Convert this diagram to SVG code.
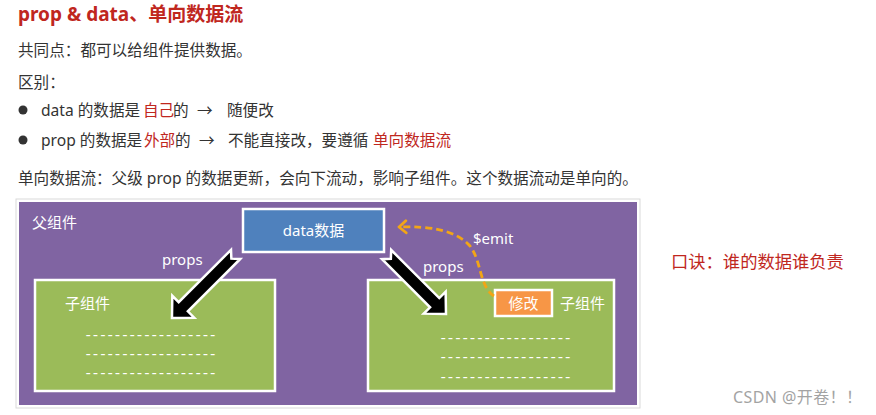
<svg xmlns="http://www.w3.org/2000/svg" width="876" height="415" viewBox="0 0 876 415">
<defs>
<style>
.t{font-family:"Noto Sans","Noto Sans CJK SC",sans-serif;}
.body{font-size:15.6px;fill:#333;}
.red{fill:#c0271e;}
.w{fill:#fff;font-size:15px;}
.dash{fill:#fff;font-size:14px;font-family:"Liberation Mono",monospace;}
.box{stroke:#fff;stroke-width:2.5;}
.arrow{fill:#000;stroke:#fff;stroke-width:2.5;stroke-linejoin:miter;}
</style>
<marker id="chev" markerUnits="userSpaceOnUse" markerWidth="12" markerHeight="16" viewBox="0 0 12 16" refX="10" refY="8" orient="auto">
<path d="M3,2 L10,8 L3,14" fill="none" stroke="#f2a516" stroke-width="2.8" stroke-linecap="round" stroke-linejoin="round"/>
</marker>
</defs>
<rect width="876" height="415" fill="#fff"/>

<g id="text" class="t">
<text x="18" y="21" font-size="19" font-weight="bold" class="red">prop &amp; data、单向数据流</text>
<text x="18" y="56" class="body">共同点：都可以给组件提供数据。</text>
<text x="18" y="88" class="body">区别：</text>
<circle cx="23" cy="110" r="4.5" fill="#333"/>
<circle cx="23" cy="140" r="4.5" fill="#333"/>
<text y="116" class="body"><tspan x="41">data 的数据是</tspan><tspan x="143" class="red">自己</tspan><tspan x="173">的</tspan><tspan x="197">→</tspan><tspan x="227">随便改</tspan></text>
<text y="146" class="body"><tspan x="41">prop 的数据是</tspan><tspan x="144" class="red">外部</tspan><tspan x="175">的</tspan><tspan x="199">→</tspan><tspan x="228">不能直接改，要遵循</tspan><tspan x="373" class="red">单向数据流</tspan></text>
<text x="18" y="184" class="body">单向数据流：父级 prop 的数据更新，会向下流动，影响子组件。这个数据流动是单向的。</text>
<text x="671" y="268" font-size="17.3" class="red">口诀：谁的数据谁负责</text>
<text x="733" y="403" font-size="16" fill="#a3a3a3" textLength="129" lengthAdjust="spacing">CSDN @开卷！！</text>
</g>

<g id="parent">
<rect x="16" y="199" width="624" height="209" fill="#fff" stroke="#d9d9d9" stroke-width="1"/>
<rect x="19" y="202" width="618" height="203" fill="#8064a2"/>
<text x="32" y="228" class="t w">父组件</text>
</g>

<g id="child-left">
<rect x="35" y="280" width="240" height="111" fill="#9bbb59" class="box"/>
<text x="65" y="309" class="t w">子组件</text>
<text x="84" y="340" class="dash" textLength="133" lengthAdjust="spacing">------------------</text>
<text x="84" y="359" class="dash" textLength="133" lengthAdjust="spacing">------------------</text>
<text x="84" y="378" class="dash" textLength="133" lengthAdjust="spacing">------------------</text>
</g>

<g id="child-right">
<rect x="368" y="280" width="246" height="111" fill="#9bbb59" class="box"/>
<text x="560" y="309" class="t w">子组件</text>
<text x="439" y="343" class="dash" textLength="133" lengthAdjust="spacing">------------------</text>
<text x="439" y="362" class="dash" textLength="133" lengthAdjust="spacing">------------------</text>
<text x="439" y="382" class="dash" textLength="133" lengthAdjust="spacing">------------------</text>
</g>

<g id="data">
<rect x="243" y="209" width="141" height="43" fill="#4f81bd" class="box"/>
<text x="313.5" y="236" text-anchor="middle" class="t w" font-size="15.5">data数据</text>
</g>

<g id="modify">
<rect x="495" y="290" width="57" height="26" fill="#f79646" class="box"/>
<text x="523.5" y="309" text-anchor="middle" class="t w">修改</text>
</g>

<g id="connectors">
<path class="arrow" transform="translate(235.6,254.4) rotate(135)" d="M0,-6.5 L74,-6.5 L74,-15.5 L90,0 L74,15.5 L74,6.5 L0,6.5 L6,0 Z"/>
<path class="arrow" transform="translate(386.6,254.6) rotate(45)" d="M0,-6.5 L68,-6.5 L68,-15.5 L84,0 L68,15.5 L68,6.5 L0,6.5 L6,0 Z"/>
<path d="M494,296 C479,286 482,262 470,246 C456,230 430,226 399,227" fill="none" stroke="#f2a516" stroke-width="2.8" stroke-dasharray="7 4" marker-end="url(#chev)"/>
<text x="162" y="265" class="t w">props</text>
<text x="423" y="272" class="t w">props</text>
<text x="473" y="244" class="t w">$emit</text>
</g>
</svg>
